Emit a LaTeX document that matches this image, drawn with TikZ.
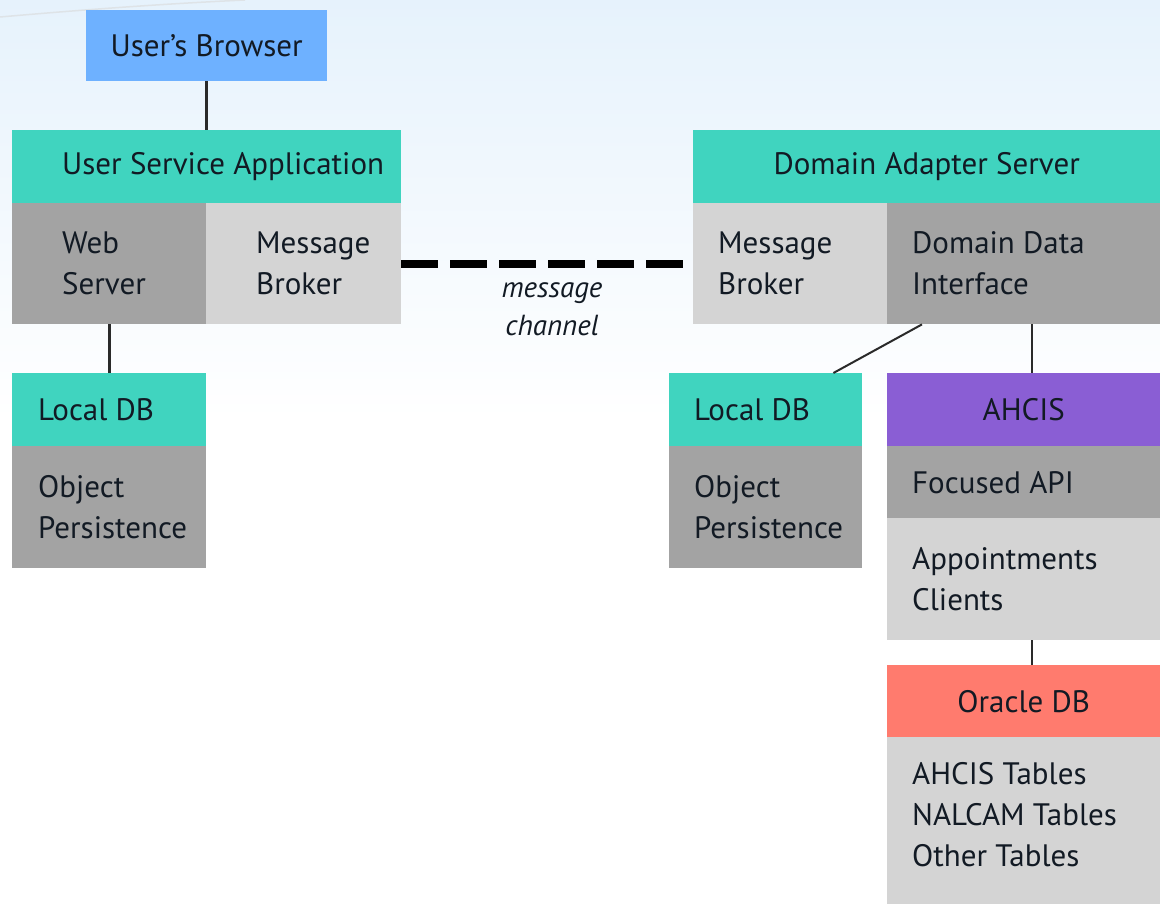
\documentclass[tikz,border=0pt]{standalone}
\usepackage{fontspec}
\setmainfont{PT Sans}
\usetikzlibrary{calc}
\definecolor{hdteal}{HTML}{40D4BF}
\definecolor{brblue}{HTML}{6EB1FF}
\definecolor{dkgray}{HTML}{A3A3A3}
\definecolor{ltgray}{HTML}{D4D4D4}
\definecolor{ahpurple}{HTML}{8A5ED4}
\definecolor{orsalmon}{HTML}{FF7B6E}
\definecolor{txtcol}{HTML}{121A24}
\definecolor{bgblue}{HTML}{E6F2FC}
\definecolor{linecol}{HTML}{2A2A2A}
\tikzset{
  fbox/.style={rectangle, inner sep=0pt, anchor=north west, text=txtcol,
    font=\fontsize{31}{41}\selectfont, align=center},
  lbl/.style={inner sep=0pt, anchor=west, align=left, text=txtcol,
    font=\fontsize{31}{41}\selectfont},
  conn/.style={draw=linecol, line width=2.6pt},
}
\begin{document}
\begin{tikzpicture}[x=1pt,y=-1pt]
\useasboundingbox (0,0) rectangle (1160,904);
\fill[white] (0,0) rectangle (1160,904);
\shade[top color=bgblue, bottom color=white] (0,0) rectangle (1160,420);
\draw[draw=bgblue!70!gray!60, line width=1.5pt] (0,17) .. controls (80,10) and (160,4) .. (245,0);

% left column
\node[fbox, fill=brblue, minimum width=241, minimum height=71] (br) at (86,10) {User's Browser};
\node[fbox, fill=hdteal, minimum width=389, minimum height=73] (usa) at (12,130) {};
\node[lbl] (usat) at ($(usa.west)+(50,0)$) {User Service Application};
\node[fbox, fill=dkgray, minimum width=194, minimum height=121] (ws) at (12,203) {};
\node[lbl] (wst) at ($(ws.west)+(50,0)$) {Web\\Server};
\node[fbox, fill=ltgray, minimum width=195, minimum height=121] (lmb) at (206,203) {};
\node[lbl] (lmbt) at ($(lmb.west)+(50,0)$) {Message\\Broker};
\node[fbox, fill=hdteal, minimum width=194, minimum height=73] (ldb1) at (12,373) {};
\node[lbl] (ldb1t) at ($(ldb1.west)+(26,0)$) {Local DB};
\node[fbox, fill=dkgray, minimum width=194, minimum height=122] (op1) at (12,446) {};
\node[lbl] (op1t) at ($(op1.west)+(26,0)$) {Object\\Persistence};

% right side
\node[fbox, fill=hdteal, minimum width=467, minimum height=73] (das) at (693,130) {Domain Adapter Server};
\node[fbox, fill=ltgray, minimum width=194, minimum height=121] (rmb) at (693,203) {};
\node[lbl] (rmbt) at ($(rmb.west)+(25,0)$) {Message\\Broker};
\node[fbox, fill=dkgray, minimum width=273, minimum height=121] (ddi) at (887,203) {};
\node[lbl] (ddit) at ($(ddi.west)+(25,0)$) {Domain Data\\Interface};
\node[fbox, fill=hdteal, minimum width=193, minimum height=73] (ldb2) at (669,373) {};
\node[lbl] (ldb2t) at ($(ldb2.west)+(25,0)$) {Local DB};
\node[fbox, fill=dkgray, minimum width=193, minimum height=122] (op2) at (669,446) {};
\node[lbl] (op2t) at ($(op2.west)+(25,0)$) {Object\\Persistence};
\node[fbox, fill=ahpurple, minimum width=273, minimum height=73] (ah) at (887,373) {AHCIS};
\node[fbox, fill=dkgray, minimum width=273, minimum height=72] (fapi) at (887,446) {};
\node[lbl] (fapit) at ($(fapi.west)+(25,0)$) {Focused API};
\node[fbox, fill=ltgray, minimum width=273, minimum height=122] (appt) at (887,518) {};
\node[lbl] (apptt) at ($(appt.west)+(25,0)$) {Appointments\\Clients};
\node[fbox, fill=orsalmon, minimum width=273, minimum height=72] (ora) at (887,665) {Oracle DB};
\node[fbox, fill=ltgray, minimum width=273, minimum height=167] (tab) at (887,737) {};
\node[lbl] (tabt) at ($(tab.west)+(25,-6)$) {AHCIS Tables\\NALCAM Tables\\Other Tables};

% connectors
\draw[conn] (br.south) -- (usa.north);
\draw[conn] (ws.south) -- (ldb1.north);
\draw[conn, line width=2pt] ($(ddi.south west)+(35,0)$) coordinate (d1) -- ($(ldb2.north east)+(-29,0)$) coordinate (d2);
\draw[conn] ($(ddi.south west)+(145,0)$) coordinate (d3) -- ($(ah.north west)+(145,0)$) coordinate (d4);
\draw[conn] ($(appt.south west)+(145,0)$) coordinate (d5) -- ($(ora.north west)+(145,0)$) coordinate (d6);
\draw[draw=black, line width=8pt, dash pattern=on 37pt off 12pt] (lmb.east) -- (rmb.west);
\node[inner sep=0pt, align=center, text=txtcol, font=\fontsize{29}{38}\selectfont\itshape] (mc) at (552,309) {message\\channel};
\end{tikzpicture}
\end{document}
